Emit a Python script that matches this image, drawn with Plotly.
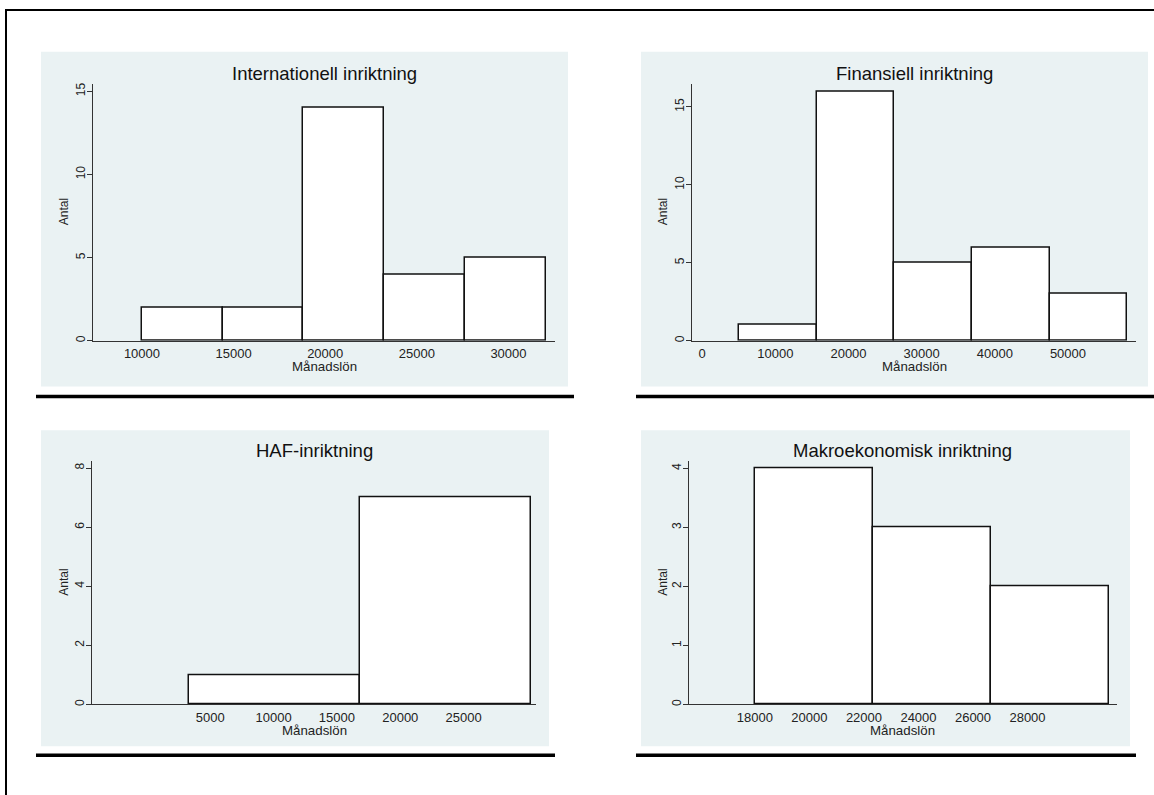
import plotly.graph_objects as go

W, H = 1154, 795

# ---------------- data ----------------
titles = ["Internationell inriktning", "Finansiell inriktning",
          "HAF-inriktning", "Makroekonomisk inriktning"]
x_title = "Månadslön"
y_title = "Antal"

intl_edges = [10000, 14407, 18814, 23221, 27628, 32035]
intl_counts = [2, 2, 14, 4, 5]
fin_edges = [5000, 15625, 26250, 36875, 47500, 58125]
fin_counts = [1, 16, 5, 6, 3]
haf_edges = [3300, 16810, 30320]
haf_counts = [1, 7]
makro_edges = [18000, 22333, 26667, 31000]
makro_counts = [4, 3, 2]

intl_xticks = [10000, 15000, 20000, 25000, 30000]
fin_xticks = [0, 10000, 20000, 30000, 40000, 50000]
haf_xticks = [5000, 10000, 15000, 20000, 25000]
makro_xticks = [18000, 20000, 22000, 24000, 26000, 28000]

intl_yticks = [0, 5, 10, 15]
fin_yticks = [0, 5, 10, 15]
haf_yticks = [0, 2, 4, 6, 8]
makro_yticks = [0, 1, 2, 3, 4]

# ---------------- layout config (pixels) ----------------
panels = [
    dict(edges=intl_edges, counts=intl_counts, xt=intl_xticks, yt=intl_yticks,
         xr=[7328, 32540], yr=[0, 15.46],
         plot=(93, 555, 83, 341), bg=(41, 568, 51, 387), line=(36, 574, 397), ytx=64),
    dict(edges=fin_edges, counts=fin_counts, xt=fin_xticks, yt=fin_yticks,
         xr=[-1395, 59302], yr=[0, 16.49],
         plot=(692, 1136, 83, 341), bg=(641, 1148, 51, 387), line=(636, 1154, 397), ytx=663),
    dict(edges=haf_edges, counts=haf_counts, xt=haf_xticks, yt=haf_yticks,
         xr=[-4333, 30714], yr=[0, 8.23],
         plot=(92, 536, 462, 706), bg=(41, 549, 431, 748), line=(36, 555, 757), ytx=64),
    dict(edges=makro_edges, counts=makro_counts, xt=makro_xticks, yt=makro_yticks,
         xr=[15581, 31283], yr=[0, 4.12],
         plot=(689, 1117, 462, 706), bg=(641, 1130, 431, 748), line=(636, 1136, 757), ytx=663),
]

BG = "#EAF2F3"
FONT = "Liberation Sans, Arial, sans-serif"


def px(x):
    return x / W


def py(y):
    return 1 - y / H


fig = go.Figure()
shapes = []
annotations = []
layout_axes = {}

for i, p in enumerate(panels):
    n = "" if i == 0 else str(i + 1)
    e = p["edges"]
    centers = [(a + b) / 2 for a, b in zip(e[:-1], e[1:])]
    widths = [b - a for a, b in zip(e[:-1], e[1:])]
    fig.add_trace(go.Bar(
        x=centers, y=p["counts"], width=widths,
        marker=dict(color="white", line=dict(color="#111111", width=1.5)),
        xaxis="x" + n, yaxis="y" + n, showlegend=False, hoverinfo="skip"))

    x0, x1, y0, y1 = p["plot"]
    layout_axes["xaxis" + n] = dict(
        domain=[px(x0), px(x1)], range=p["xr"], anchor="y" + n,
        tickvals=p["xt"], ticktext=[str(v) for v in p["xt"]],
        showgrid=False, zeroline=False, showline=True, linecolor="#333333", linewidth=1,
        ticks="", ticklabelstandoff=1,
        tickfont=dict(family=FONT, size=13, color="#222222"), fixedrange=True)
    layout_axes["yaxis" + n] = dict(
        domain=[py(y1), py(y0)], range=p["yr"], anchor="x" + n,
        tickvals=p["yt"], ticktext=[str(v) for v in p["yt"]], tickangle=-90,
        showgrid=True, gridcolor=BG, gridwidth=1, zeroline=False,
        showline=True, linecolor="#333333", linewidth=1,
        ticks="outside", ticklen=5, tickcolor="#333333", tickwidth=1,
        ticklabelstandoff=-3,
        tickfont=dict(family=FONT, size=12, color="#222222"), fixedrange=True)

    bx0, bx1, by0, by1 = p["bg"]
    shapes.append(dict(type="rect", xref="paper", yref="paper", layer="below",
                       x0=px(bx0), x1=px(bx1), y0=py(by1), y1=py(by0),
                       fillcolor=BG, line=dict(width=0)))
    lx0, lx1, ly = p["line"]
    shapes.append(dict(type="line", xref="paper", yref="paper",
                       x0=px(lx0), x1=px(lx1), y0=py(ly), y1=py(ly),
                       line=dict(color="black", width=3.5)))
    # title
    annotations.append(dict(text=titles[i], xref="paper", yref="paper",
                            x=px((x0 + x1) / 2), y=py(y0 - 10.5), xanchor="center", yanchor="middle",
                            showarrow=False, font=dict(family=FONT, size=18.5, color="#111111")))
    annotations.append(dict(text=x_title, xref="paper", yref="paper",
                            x=px((x0 + x1) / 2), y=py(y1 + 26), xanchor="center", yanchor="middle",
                            showarrow=False, font=dict(family=FONT, size=13.3, color="#222222")))
    annotations.append(dict(text=y_title, xref="paper", yref="paper", textangle=-90,
                            x=px(p["ytx"]), y=py((y0 + y1) / 2), xanchor="center", yanchor="middle",
                            showarrow=False, font=dict(family=FONT, size=12, color="#222222")))

# outer frame (left and top)
shapes.append(dict(type="line", xref="paper", yref="paper",
                   x0=px(6), x1=px(6), y0=py(8), y1=py(800), line=dict(color="black", width=2)))
shapes.append(dict(type="line", xref="paper", yref="paper",
                   x0=px(5), x1=px(1160), y0=py(9), y1=py(9), line=dict(color="black", width=2)))

fig.update_layout(
    width=W, height=H, margin=dict(l=0, r=0, t=0, b=0),
    paper_bgcolor="white", plot_bgcolor="white",
    shapes=shapes, annotations=annotations, bargap=0,
    font=dict(family=FONT), **layout_axes)

fig.write_html("out.html", config={"displayModeBar": False},
               post_script="document.body.style.margin='0';document.body.style.overflow='hidden';")
